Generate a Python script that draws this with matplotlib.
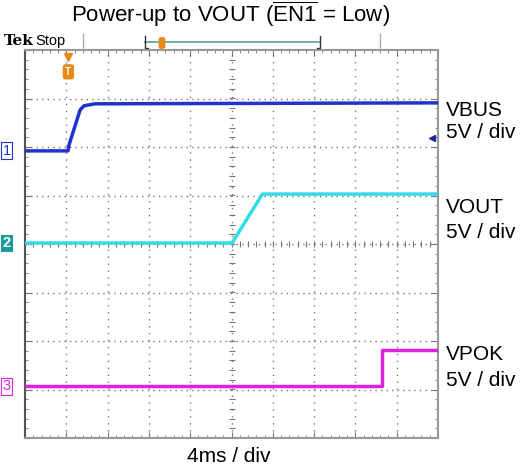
import numpy as np
import matplotlib
matplotlib.use("Agg")
import matplotlib.pyplot as plt
from matplotlib.ticker import MultipleLocator

plt.rcParams["font.family"] = ["Liberation Sans", "DejaVu Sans"]
plt.rcParams["mathtext.fontset"] = "custom"
plt.rcParams["mathtext.rm"] = "Liberation Sans"

# scope traces: time in ms (4 ms/div), level in screen divisions (5 V/div)
t_vbus = [0.0, 4.16, 4.26, 5.33, 5.71, 6.78, 40.0]
v_vbus = [1.92, 1.92, 2.04, 2.76, 2.85, 2.89, 2.91]
t_vout = [0.0, 20.05, 23.0, 40.0]
v_vout = [0.02, 0.02, 1.03, 1.03]
t_vpok = [0.0, 34.58, 34.58, 40.0]
v_vpok = [-2.93, -2.93, -2.19, -2.19]

ch_names = ["VBUS", "VOUT", "VPOK"]
ch_scale = ["5V / div", "5V / div", "5V / div"]
ch_marks = [1.92, 0.02, -2.93]
C_BLUE, C_CYAN, C_MAG, C_ORG = "#2233cc", "#33dde6", "#e020e0", "#e8891a"
GRID = "#777777"

W, H = 520, 472
fig = plt.figure(figsize=(W / 100, H / 100), dpi=100)
ax = fig.add_axes([25 / W, 1 - 438 / H, 413 / W, 388 / H])
ax.set_xlim(0, 40)
ax.set_ylim(-4, 4)

# graticule
for x in np.arange(4, 40, 4):
    ax.axvline(x, color=GRID, lw=1.0, ls=(0, (1, 4)), zorder=1)
for y in np.arange(-3, 4, 1):
    ax.axhline(y, color=GRID, lw=1.0, ls=(0, (1, 3)), zorder=1)
ax.plot(np.arange(0, 40.01, 0.8), np.zeros(51), "|", color=GRID, ms=4, mew=0.8, zorder=1)
ax.plot(np.full(41, 20.0), np.arange(-4, 4.01, 0.2), "_", color=GRID, ms=4, mew=0.8, zorder=1)
ax.xaxis.set_major_locator(MultipleLocator(4))
ax.xaxis.set_minor_locator(MultipleLocator(0.8))
ax.yaxis.set_major_locator(MultipleLocator(1))
ax.yaxis.set_minor_locator(MultipleLocator(0.2))
ax.tick_params(which="both", direction="in", top=True, right=True,
               labelbottom=False, labelleft=False, color=GRID)
ax.tick_params(which="major", length=4)
ax.tick_params(which="minor", length=2)
for s in ax.spines.values():
    s.set_color("#999999")
    s.set_linewidth(1.5)
ax.spines["left"].set_color("#555555")

# traces
ax.plot(t_vbus, v_vbus, color=C_BLUE, lw=2.5, zorder=3)
ax.plot(t_vout, v_vout, color=C_CYAN, lw=2.5, zorder=3)
ax.plot(t_vpok, v_vpok, color=C_MAG, lw=2.5, zorder=3)

# trigger level arrow on the right
ax.plot(39.4, 2.19, marker="<", color="#1a2a99", ms=5, zorder=4, clip_on=False)

# trigger position marker
ax.plot(4.2, 3.85, marker="v", color=C_ORG, ms=6, clip_on=False, zorder=4)
ax.text(4.2, 3.55, "T", color="white", fontsize=7, fontweight="bold", ha="center", va="center",
        bbox=dict(boxstyle="round,pad=0.2", fc=C_ORG, ec=C_ORG), zorder=4)

# channel markers on the left
mark_cols = [C_BLUE, "#1a9a9a", C_MAG]
for i, (yv, col) in enumerate(zip(ch_marks, mark_cols)):
    filled = i == 1
    ax.text(-1.75, yv, str(i + 1), color="white" if filled else col, fontsize=10.5,
            fontweight="bold" if filled else "normal", ha="center", va="center", clip_on=False,
            bbox=dict(boxstyle="square,pad=0.1", fc=col if filled else "white", ec=col, lw=0.8))

# top status bar
fig.text(4 / W, 1 - 41 / H, "Tek", fontsize=11, fontweight="bold", family="DejaVu Serif", va="center")
fig.text(35 / W, 1 - 41 / H, "Stop", fontsize=10.5, va="center")
fig.add_artist(plt.Line2D([83 / W, 83 / W], [1 - 34 / H, 1 - 50 / H], color="#aaaaaa", lw=1))
fig.add_artist(plt.Line2D([380 / W, 380 / W], [1 - 34 / H, 1 - 50 / H], color="#aaaaaa", lw=1))
fig.add_artist(plt.Line2D([145 / W, 320 / W], [1 - 42 / H, 1 - 42 / H], color="#66aaa0", lw=1.3))
fig.add_artist(plt.Line2D([145 / W, 145 / W, 148 / W], [1 - 36 / H, 1 - 48 / H, 1 - 48 / H], color="#333333", lw=1))
fig.add_artist(plt.Line2D([317 / W, 320 / W, 320 / W], [1 - 48 / H, 1 - 48 / H, 1 - 36 / H], color="#333333", lw=1))
fig.text(162 / W, 1 - 43 / H, " ", fontsize=5, ha="center", va="center",
         bbox=dict(boxstyle="round,pad=0.25", fc=C_ORG, ec=C_ORG))

# title and annotations
fig.text(231 / W, 1 - 14 / H, r"Power-up to VOUT ($\overline{\mathrm{EN1}}$ = Low)",
         fontsize=16, ha="center", va="center")
lab_y = [(110, 133), (208, 232), (354, 381)]
for name, sc, (y1, y2) in zip(ch_names, ch_scale, lab_y):
    fig.text(446 / W, 1 - y1 / H, name, fontsize=15, va="center")
    fig.text(446 / W, 1 - y2 / H, sc, fontsize=15, va="center")
fig.text(229 / W, 1 - 457 / H, "4ms / div", fontsize=15, ha="center", va="center")

fig.savefig("out.png", dpi=100, facecolor="white")
